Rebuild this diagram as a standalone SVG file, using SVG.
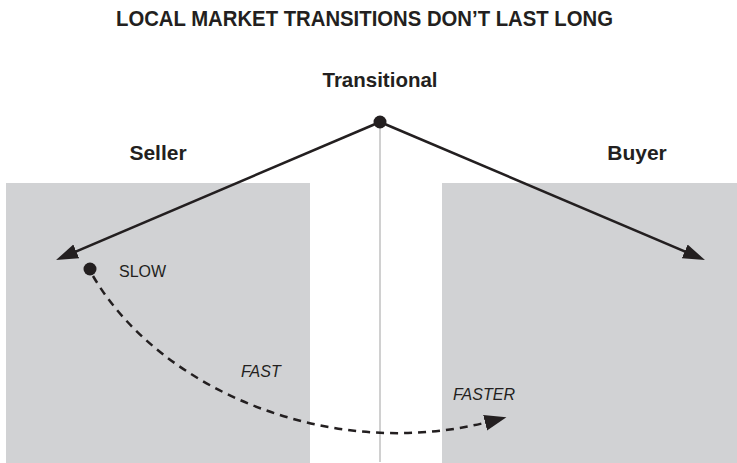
<svg xmlns="http://www.w3.org/2000/svg" width="737" height="463" viewBox="0 0 737 463">
  <style>
    .zone { fill: #d1d2d4; }
    .bold { font-family: "Liberation Sans", Arial, sans-serif; font-weight: bold; fill: #231f20; }
    .small { font-family: "Liberation Sans", Arial, sans-serif; font-size: 16px; fill: #231f20; }
    .it { font-style: italic; }
    .dot { fill: #231f20; }
    .arrow { fill: none; stroke: #231f20; stroke-width: 2.5; }
    .dash { fill: none; stroke: #231f20; stroke-width: 2.5; stroke-dasharray: 8 6; }
    .divider { stroke: #d0d0d0; stroke-width: 2; }
  </style>
  <defs>
    <marker id="head" markerUnits="userSpaceOnUse" markerWidth="24" markerHeight="16" refX="14" refY="7.5" orient="auto">
      <path d="M0,0 L22,7.5 L0,15 Z" fill="#231f20"/>
    </marker>
    <marker id="head2" markerUnits="userSpaceOnUse" markerWidth="24" markerHeight="18" refX="3" refY="8" orient="auto">
      <path d="M0,0 L22,8 L0,16 Z" fill="#231f20"/>
    </marker>
  </defs>
  <rect width="737" height="463" fill="#ffffff"/>

  <g id="title">
    <text class="bold" x="116" y="26" font-size="22" textLength="497" lengthAdjust="spacingAndGlyphs">LOCAL MARKET TRANSITIONS DON’T LAST LONG</text>
  </g>

  <g id="seller">
    <rect class="zone" x="6" y="183" width="304" height="280"/>
    <text class="bold" x="158" y="160" font-size="21" text-anchor="middle">Seller</text>
  </g>

  <g id="buyer">
    <rect class="zone" x="442" y="183" width="295" height="280"/>
    <text class="bold" x="637" y="160" font-size="21" text-anchor="middle">Buyer</text>
  </g>

  <g id="divider">
    <line class="divider" x1="380" y1="122" x2="380" y2="462"/>
  </g>

  <g id="connectors">
    <line class="arrow" x1="380" y1="122" x2="63.4" y2="256.9" marker-end="url(#head)"/>
    <line class="arrow" x1="380" y1="122" x2="697.6" y2="256.9" marker-end="url(#head)"/>
    <path class="dash" d="M93,276 C160,390 330,462 488,422" marker-end="url(#head2)"/>
  </g>

  <g id="transitional">
    <text class="bold" x="380" y="87" font-size="21" text-anchor="middle" textLength="115" lengthAdjust="spacingAndGlyphs">Transitional</text>
    <circle class="dot" cx="380" cy="122" r="6.5"/>
  </g>

  <g id="slow">
    <circle class="dot" cx="90" cy="269" r="6.5"/>
    <text class="small" x="119" y="277">SLOW</text>
  </g>

  <g id="fast">
    <text class="small it" x="241" y="377">FAST</text>
  </g>

  <g id="faster">
    <text class="small it" x="453" y="400">FASTER</text>
  </g>
</svg>
